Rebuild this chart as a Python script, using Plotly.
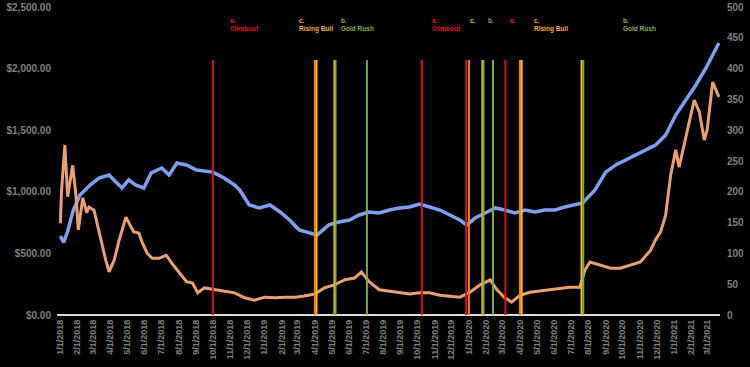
import plotly.graph_objects as go

# ---------------- data ----------------
blue_dates = ["2018-01-02","2018-01-08","2018-01-15","2018-01-25","2018-02-06","2018-02-24","2018-03-12","2018-03-30",
              "2018-04-11","2018-04-22","2018-05-04","2018-05-16","2018-05-31","2018-06-13","2018-07-02","2018-07-15",
              "2018-07-29","2018-08-15","2018-09-02","2018-10-01","2018-10-22","2018-11-09","2018-11-18","2018-12-05",
              "2018-12-23","2019-01-11","2019-01-29","2019-02-15","2019-03-04","2019-03-21","2019-04-05","2019-04-26",
              "2019-05-14","2019-06-02","2019-06-19","2019-07-07","2019-07-25","2019-08-12","2019-08-30","2019-09-17",
              "2019-10-05","2019-10-23","2019-11-10","2019-11-28","2019-12-16","2019-12-28","2020-01-12","2020-01-30",
              "2020-02-17","2020-03-05","2020-03-23","2020-04-10","2020-04-28","2020-05-15","2020-06-03","2020-06-20",
              "2020-07-08","2020-07-22","2020-08-13","2020-09-01","2020-09-19","2020-10-06","2020-10-24","2020-11-11",
              "2020-11-29","2020-12-17","2021-01-04","2021-01-22","2021-02-09","2021-02-27","2021-03-11","2021-03-22"]
blue_values = [640,590,680,850,974,1055,1112,1136,
               1080,1031,1096,1055,1031,1153,1193,1136,
               1234,1218,1177,1160,1110,1055,1015,893,
               870,893,836,771,690,666,649,731,
               755,771,812,836,828,852,869,877,
               901,877,852,812,771,731,787,828,
               869,852,828,852,836,852,852,877,
               893,909,1015,1160,1218,1258,1299,1339,
               1380,1461,1623,1745,1867,2005,2110,2208]

orange_dates = ["2018-01-02","2018-01-04","2018-01-10","2018-01-15","2018-01-24","2018-01-30","2018-02-03","2018-02-11",
                "2018-02-18","2018-02-22","2018-03-03","2018-03-12","2018-03-24","2018-03-30","2018-04-08","2018-04-17",
                "2018-04-29","2018-05-08","2018-05-13","2018-05-22","2018-05-28","2018-06-06","2018-06-15","2018-06-27",
                "2018-07-10","2018-07-20","2018-08-02","2018-08-15","2018-08-26","2018-09-04","2018-09-16","2018-10-04",
                "2018-10-22","2018-11-09","2018-11-27","2018-12-14","2019-01-02","2019-01-20","2019-02-07","2019-02-25",
                "2019-03-13","2019-04-01","2019-04-18","2019-05-06","2019-05-24","2019-06-11","2019-06-23","2019-07-07",
                "2019-07-25","2019-08-12","2019-08-30","2019-09-17","2019-10-05","2019-10-23","2019-11-10","2019-11-28",
                "2019-12-16","2020-01-03","2020-01-21","2020-02-08","2020-02-20","2020-03-05","2020-03-17","2020-04-01",
                "2020-04-19","2020-05-06","2020-05-24","2020-06-11","2020-06-29","2020-07-17","2020-07-26","2020-08-04",
                "2020-08-22","2020-09-10","2020-09-27","2020-10-15","2020-11-02","2020-11-20","2020-11-29","2020-12-08",
                "2020-12-17","2020-12-26","2021-01-04","2021-01-10","2021-01-19","2021-01-28","2021-02-06","2021-02-15",
                "2021-02-24","2021-03-01","2021-03-11","2021-03-22"]
orange_values = [149,200,276,192,243,192,138,190,
                 166,175,170,133,89,70,89,122,
                 159,143,135,133,118,100,92,92,
                 97,84,68,54,52,36,44,41,
                 38,36,28,24,29,28,29,29,
                 31,34,44,49,57,60,70,54,
                 41,39,37,34,36,36,32,31,
                 29,37,49,57,41,28,21,32,
                 37,39,41,44,45,45,73,86,
                 81,76,76,81,86,105,122,135,
                 162,227,268,240,276,317,349,330,
                 284,300,378,354]

event_dates = ["2018-10-01","2019-04-01","2019-04-04","2019-05-06","2019-05-08","2019-07-03",
               "2019-10-09","2019-12-27","2020-01-01","2020-01-25","2020-01-27","2020-02-13",
               "2020-03-06","2020-04-01","2020-04-04","2020-07-20","2020-07-23"]
event_kinds = ["red","orange","yellow","yellow","green","green",
               "red","red","orange","yellow","green","green",
               "red","orange","yellow","yellow","green"]

label_dates = ["2018-10-29","2019-02-28","2019-05-14","2019-10-23","2019-12-30","2020-02-01",
               "2020-03-10","2020-04-23","2020-09-29"]
label_texts = ["a.<br>Climbout","c.<br>Rising Bull","b.<br>Gold Rush","a.<br>Climbout","c.","b.",
               "a.","c.<br>Rising Bull","b.<br>Gold Rush"]
label_kinds = ["red","orange","green","red","yellow","green","red","orange","green"]

tick_dates = [f"{y}-{m:02d}-01" for y in (2018, 2019, 2020, 2021) for m in range(1, 13)][:39]
tick_labels = [f"{int(d[5:7])}/1/{d[:4]}" for d in tick_dates]

# ---------------- styles ----------------
line_colors = {"red": "#d0161c", "orange": "#f07a1e", "yellow": "#ffc000", "green": "#7aaa48"}
text_colors = {"red": "#e0161c", "orange": "#f5b02a", "yellow": "#ffc000", "green": "#86b050"}
grey = "#7f7f7f"

fig = go.Figure()
fig.add_trace(go.Scatter(x=orange_dates, y=orange_values, yaxis="y2", mode="lines",
                         line=dict(color="#e9a070", width=3), hoverinfo="skip", showlegend=False))
fig.add_trace(go.Scatter(x=blue_dates, y=blue_values, mode="lines",
                         line=dict(color="#7e9ff0", width=3.5), hoverinfo="skip", showlegend=False))

for d, k in zip(event_dates, event_kinds):
    fig.add_shape(type="line", xref="x", yref="y", x0=d, x1=d, y0=0, y1=2070,
                  line=dict(color=line_colors[k], width=2), layer="above")

for d, t, k in zip(label_dates, label_texts, label_kinds):
    fig.add_annotation(x=d, xref="x", y=0.975, yref="paper", text=t, showarrow=False,
                       xanchor="left", yanchor="top", align="left",
                       font=dict(size=6.5, color=text_colors[k], family="Liberation Sans", weight="bold"))

fig.update_layout(
    width=750, height=367,
    margin=dict(l=57, r=30, t=7, b=52, autoexpand=False),
    paper_bgcolor="black", plot_bgcolor="black",
    font=dict(family="Liberation Sans", color=grey),
    xaxis=dict(range=["2017-12-27", "2021-03-24"], tickmode="array", tickvals=tick_dates, ticktext=tick_labels,
               tickangle=-90, tickfont=dict(size=9, color=grey, weight="bold"), automargin=False,
               showgrid=False, zeroline=False, showline=False, ticks="", ticklabelstandoff=2),
    yaxis=dict(range=[0, 2500], dtick=500, tickprefix="$", tickformat=",.2f", automargin=False,
               tickfont=dict(size=10, color=grey, weight="bold"), ticklabelstandoff=5,
               showgrid=False, zeroline=True, zerolinecolor="#d9d9d9", zerolinewidth=2, ticks=""),
    yaxis2=dict(range=[0, 500], dtick=50, overlaying="y", side="right", automargin=False,
                tickfont=dict(size=10, color=grey, weight="bold"), ticklabelstandoff=6,
                showgrid=False, zeroline=False, ticks=""),
)

fig.write_html("out.html", config={"displayModeBar": False},
               post_script="document.body.style.margin='0';document.body.style.background='black';")
